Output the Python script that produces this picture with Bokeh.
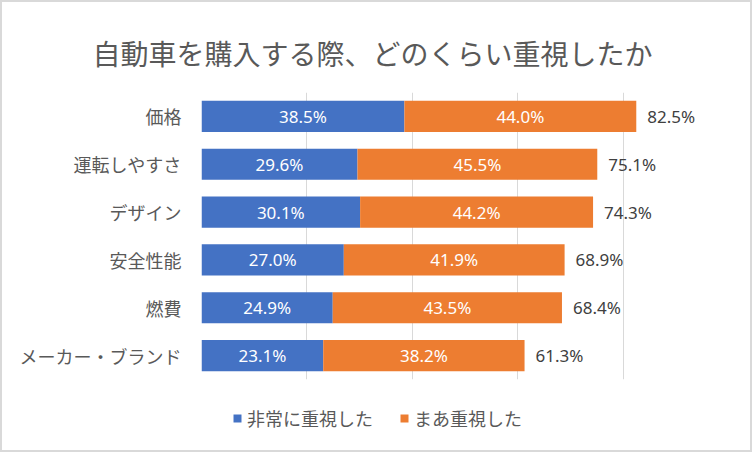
from bokeh.plotting import figure
from bokeh.layouts import column
from bokeh.models import ColumnDataSource, Legend, LegendItem, FactorRange
from bokeh.core.properties import value
from bokeh.embed import file_html
from bokeh.resources import INLINE

categories = ["価格", "運転しやすさ", "デザイン", "安全性能", "燃費", "メーカー・ブランド"]
very = [38.5, 29.6, 30.1, 27.0, 24.9, 23.1]
some = [44.0, 45.5, 44.2, 41.9, 43.5, 38.2]
series_names = ["非常に重視した", "まあ重視した"]
title_text = "自動車を購入する際、どのくらい重視したか"

total = [round(a + b, 1) for a, b in zip(very, some)]
JP = "Noto Sans CJK JP"
NUM = "Noto Sans"
BLUE = "#4472C4"
ORANGE = "#ED7D31"
GRAY = "#595959"

src = ColumnDataSource(dict(
    cat=categories,
    very=very,
    some=some,
    total=total,
    very_mid=[v / 2 for v in very],
    some_mid=[v + s / 2 for v, s in zip(very, some)],
    very_lbl=[f"{v:.1f}%" for v in very],
    some_lbl=[f"{s:.1f}%" for s in some],
    total_lbl=[f"{t:.1f}%" for t in total],
    zero=[0] * len(categories),
))

p = figure(frame_width=527, frame_height=287,
           y_range=FactorRange(factors=list(reversed(categories))),
           x_range=(0, 100), output_backend="svg", toolbar_location=None,
           min_border_left=199, min_border_right=22, min_border_top=90,
           min_border_bottom=1)

p.hbar(y="cat", left="zero", right="very", height=0.65, source=src,
       fill_color=BLUE, line_color=None)
p.hbar(y="cat", left="very", right="total", height=0.65, source=src,
       fill_color=ORANGE, line_color=None)

p.text(x="very_mid", y="cat", text="very_lbl", source=src, text_color="white",
       text_align="center", text_baseline="middle", text_font_size="17px",
       text_font=value(NUM))
p.text(x="some_mid", y="cat", text="some_lbl", source=src, text_color="white",
       text_align="center", text_baseline="middle", text_font_size="17px",
       text_font=value(NUM))
p.text(x="total", y="cat", text="total_lbl", source=src, text_color="#404040",
       text_align="left", text_baseline="middle", text_font_size="17px",
       text_font=value(NUM), x_offset=11)

p.title.text = title_text
p.title.align = "left"
p.title.offset = -109
p.title.vertical_align = "middle"
p.title.text_font = JP
p.title.text_font_size = "28px"
p.title.text_font_style = "normal"
p.title.text_color = GRAY
p.title.standoff = 37

p.xaxis.visible = False
p.xgrid.grid_line_color = "#d9d9d9"
p.ygrid.grid_line_color = None
p.outline_line_color = None

ya = p.yaxis[0]
ya.axis_line_color = None
ya.major_tick_line_color = None
ya.minor_tick_line_color = None
ya.major_label_text_font = JP
ya.major_label_text_font_size = "18px"
ya.major_label_text_color = GRAY
ya.major_label_standoff = 14

# legend strip below the chart (frame aligned with the main plot)
p2 = figure(width=748, height=70, x_range=(0, 1), y_range=(0, 1),
            x_axis_type=None, y_axis_type=None, output_backend="svg",
            toolbar_location=None, min_border=0)
p2.outline_line_color = None
k1 = p2.hbar(y="very", left="zero", right="zero", height=0.65, source=src,
             fill_color=BLUE, line_color=None)
k2 = p2.hbar(y="very", left="zero", right="zero", height=0.65, source=src,
             fill_color=ORANGE, line_color=None)
legend = Legend(items=[LegendItem(label=series_names[0], renderers=[k1]),
                       LegendItem(label=series_names[1], renderers=[k2])],
                orientation="horizontal", location=(31, 19),
                label_text_font=JP, label_text_font_size="18px",
                label_text_color=GRAY, glyph_width=10, glyph_height=10,
                spacing=26, border_line_color=None, background_fill_alpha=0,
                margin=0, padding=0, label_standoff=5)
p2.add_layout(legend)

layout = column(p, p2, spacing=0,
                styles={"border": "2px solid #d9d9d9"})

open("out.html", "w").write(file_html(layout, INLINE))
